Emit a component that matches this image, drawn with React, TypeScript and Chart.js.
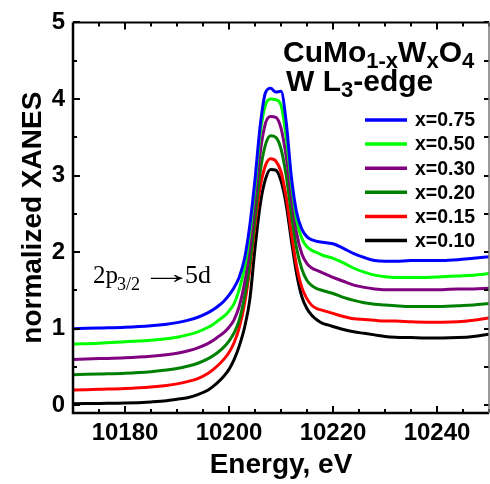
import { useEffect, useRef } from 'react';
import { Chart, registerables } from 'chart.js';

Chart.register(...registerables);

const ENERGY = [
  10170, 10175, 10180, 10185, 10188, 10190, 10192, 10194, 10196, 10197,
  10198, 10199, 10200, 10201, 10202, 10203, 10204, 10205, 10206, 10207,
  10208, 10209, 10210, 10211, 10212, 10213, 10214, 10215, 10216, 10217,
  10218, 10219, 10220, 10222, 10224, 10226, 10228, 10230, 10232, 10235,
  10238, 10241, 10244, 10247, 10250,
];

const X075 = [
  1.00, 1.01, 1.02, 1.04, 1.06, 1.08, 1.11, 1.15, 1.21, 1.25,
  1.30, 1.36, 1.44, 1.54, 1.68, 1.92, 2.35, 2.95, 3.65, 4.08,
  4.14, 4.09, 4.10, 3.70, 2.98, 2.52, 2.30, 2.20, 2.16, 2.14,
  2.13, 2.12, 2.11, 2.05, 1.98, 1.93, 1.89, 1.88, 1.88, 1.89,
  1.89, 1.89, 1.90, 1.92, 1.94,
];
const X050 = [
  0.80, 0.81, 0.83, 0.85, 0.87, 0.89, 0.92, 0.96, 1.02, 1.06,
  1.11, 1.16, 1.23, 1.33, 1.52, 1.80, 2.25, 2.85, 3.55, 3.92,
  4.00, 3.99, 3.92, 3.50, 2.90, 2.42, 2.18, 2.07, 2.02, 1.99,
  1.96, 1.94, 1.92, 1.86, 1.79, 1.74, 1.70, 1.68, 1.67, 1.67,
  1.67, 1.68, 1.69, 1.70, 1.72,
];
const X030 = [
  0.60, 0.61, 0.62, 0.64, 0.66, 0.68, 0.71, 0.75, 0.81, 0.85,
  0.90, 0.95, 1.02, 1.12, 1.30, 1.60, 2.05, 2.65, 3.30, 3.68,
  3.77, 3.76, 3.62, 3.25, 2.72, 2.25, 1.98, 1.85, 1.79, 1.76,
  1.73, 1.70, 1.67, 1.62, 1.57, 1.54, 1.52, 1.51, 1.51, 1.51,
  1.51, 1.51, 1.52, 1.52, 1.53,
];
const X020 = [
  0.40, 0.41, 0.42, 0.44, 0.46, 0.48, 0.51, 0.55, 0.61, 0.65,
  0.70, 0.76, 0.84, 0.95, 1.12, 1.42, 1.85, 2.45, 3.05, 3.40,
  3.52, 3.50, 3.35, 3.00, 2.50, 2.05, 1.78, 1.63, 1.56, 1.52,
  1.50, 1.48, 1.46, 1.41, 1.37, 1.34, 1.32, 1.31, 1.30, 1.29,
  1.29, 1.29, 1.30, 1.31, 1.33,
];
const X015 = [
  0.20, 0.21, 0.22, 0.24, 0.26, 0.28, 0.31, 0.35, 0.42, 0.47,
  0.53, 0.60, 0.69, 0.82, 1.02, 1.33, 1.78, 2.35, 2.85, 3.13,
  3.22, 3.19, 3.05, 2.72, 2.25, 1.82, 1.54, 1.39, 1.30, 1.26,
  1.24, 1.22, 1.20, 1.16, 1.13, 1.12, 1.11, 1.10, 1.10, 1.09,
  1.085, 1.085, 1.09, 1.11, 1.14,
];
const X010 = [
  0.02, 0.025, 0.03, 0.045, 0.06, 0.08, 0.10, 0.14, 0.20, 0.25,
  0.31, 0.38, 0.47, 0.60, 0.78, 1.02, 1.38, 2.05, 2.62, 2.95,
  3.08, 3.07, 2.93, 2.62, 2.15, 1.72, 1.42, 1.26, 1.17, 1.11,
  1.07, 1.05, 1.03, 0.99, 0.96, 0.94, 0.92, 0.90, 0.89, 0.885,
  0.88, 0.88, 0.885, 0.90, 0.93,
];

const SERIES_LABELS = ['x=0.75', 'x=0.50', 'x=0.30', 'x=0.20', 'x=0.15', 'x=0.10'];
const SERIES_VALUES = [X075, X050, X030, X020, X015, X010];
const SERIES_COLORS = ['#0000ff', '#00ff00', '#800080', '#008000', '#ff0000', '#000000'];

const X_TICKS = [10180, 10200, 10220, 10240];
const X_MINOR = [10170, 10175, 10180, 10185, 10190, 10195, 10200, 10205, 10210, 10215, 10220, 10225, 10230, 10235, 10240, 10245, 10250];
const Y_TICKS = [0, 1, 2, 3, 4, 5];
const Y_MINOR = [0, 0.5, 1, 1.5, 2, 2.5, 3, 3.5, 4, 4.5, 5];

const SANS = "'Liberation Sans', Arial, sans-serif";
const SERIF = "'Liberation Serif', 'Times New Roman', serif";

type Run = [string, string, number];

function drawRuns(ctx: CanvasRenderingContext2D, x: number, baseline: number, runs: Run[]) {
  let cx = x;
  for (const [text, font, dy] of runs) {
    ctx.font = font;
    ctx.fillText(text, cx, baseline + dy);
    cx += ctx.measureText(text).width;
  }
}

const framePlugin = {
  id: 'frame',
  afterDraw(chart: any) {
    const { ctx, chartArea } = chart;
    const { left, right, top, bottom } = chartArea;
    const xs = chart.scales.x;
    const ys = chart.scales.y;
    ctx.save();
    ctx.strokeStyle = '#000';
    ctx.lineWidth = 2;
    ctx.beginPath();
    for (const v of X_MINOR) {
      const px = Math.round(xs.getPixelForValue(v));
      const len = X_TICKS.includes(v) ? 7 : 4;
      ctx.moveTo(px, bottom);
      ctx.lineTo(px, bottom - len);
      ctx.moveTo(px, top);
      ctx.lineTo(px, top + len);
    }
    for (const v of Y_MINOR) {
      const py = Math.round(ys.getPixelForValue(v));
      const len = Y_TICKS.includes(v) ? 7 : 4;
      ctx.moveTo(left, py);
      ctx.lineTo(left + len, py);
      ctx.moveTo(right, py);
      ctx.lineTo(right - 5, py);
    }
    ctx.stroke();

    ctx.lineWidth = 2.5;
    ctx.beginPath();
    ctx.moveTo(left, top);
    ctx.lineTo(left, bottom);
    ctx.lineTo(right, bottom);
    ctx.stroke();
    ctx.lineWidth = 2;
    ctx.beginPath();
    ctx.moveTo(left, top);
    ctx.lineTo(right, top);
    ctx.stroke();
    ctx.strokeStyle = '#777';
    ctx.lineWidth = 1.5;
    ctx.beginPath();
    ctx.moveTo(right, top);
    ctx.lineTo(right, bottom);
    ctx.stroke();

    // legend
    ctx.textBaseline = 'middle';
    ctx.textAlign = 'left';
    ctx.font = `bold 19.5px ${SANS}`;
    SERIES_LABELS.forEach((lab, i) => {
      const yy = 120 + i * 24.1;
      ctx.strokeStyle = SERIES_COLORS[i];
      ctx.lineWidth = 3.5;
      ctx.beginPath();
      ctx.moveTo(365, yy);
      ctx.lineTo(407, yy);
      ctx.stroke();
      ctx.fillStyle = '#000';
      ctx.fillText(lab, 415, yy + 1);
    });

    // title
    ctx.textBaseline = 'alphabetic';
    ctx.fillStyle = '#000';
    const main = `bold 30px ${SANS}`;
    const sub = `bold 22px ${SANS}`;
    drawRuns(ctx, 283, 62, [
      ['CuMo', main, 0], ['1-x', sub, 6], ['W', main, 0], ['x', sub, 6], ['O', main, 0], ['4', sub, 6],
    ]);
    drawRuns(ctx, 286, 91, [['W L', main, 0], ['3', sub, 6], ['-edge', main, 0]]);

    // annotation
    ctx.font = `25px ${SERIF}`;
    ctx.fillText('2p', 93, 283);
    ctx.font = `18px ${SERIF}`;
    ctx.fillText('3/2', 117, 290);
    ctx.font = `26px ${SERIF}`;
    const m = ctx.measureText('\u2192');
    const inkL = -(m.actualBoundingBoxLeft || 0);
    const inkW = (m.actualBoundingBoxRight || m.width) - inkL;
    const sx = 33 / Math.max(inkW, 1);
    ctx.save();
    ctx.translate(150 - inkL * sx, 283);
    ctx.scale(sx, 1.1);
    ctx.fillText('\u2192', 0, 0);
    ctx.restore();
    ctx.font = `26px ${SERIF}`;
    ctx.fillText('5d', 185, 283);
    ctx.restore();
  },
};

export default function App() {
  const ref = useRef<HTMLCanvasElement | null>(null);
  useEffect(() => {
    if (!ref.current) return;
    const chart = new Chart(ref.current, {
      type: 'line',
      data: {
        datasets: SERIES_LABELS.map((label, i) => ({
          label,
          data: ENERGY.map((e, j) => ({ x: e, y: SERIES_VALUES[i][j] })),
          borderColor: SERIES_COLORS[i],
          backgroundColor: SERIES_COLORS[i],
          borderWidth: 3,
          pointRadius: 0,
          cubicInterpolationMode: 'monotone' as const,
          fill: false,
        })),
      },
      options: {
        responsive: false,
        devicePixelRatio: 1,
        animation: false,
        layout: { padding: { top: 22, right: 1, left: 0, bottom: 0 } },
        plugins: { legend: { display: false }, tooltip: { enabled: false } },
        scales: {
          x: {
            type: 'linear',
            min: 10170,
            max: 10250,
            afterFit: (s: any) => { s.height = 71; },
            afterBuildTicks: (s: any) => { s.ticks = X_TICKS.map((v) => ({ value: v })); },
            grid: { display: false, drawTicks: false },
            border: { display: false },
            ticks: {
              padding: 6,
              maxRotation: 0,
              autoSkip: false,
              color: '#000',
              font: { family: SANS, size: 24, weight: 'bold' },
              callback: (v: any) => String(v),
            },
            title: {
              display: true,
              text: 'Energy, eV',
              color: '#000',
              font: { family: SANS, size: 28, weight: 'bold', lineHeight: 1.2 },
              padding: { top: 0, bottom: 2 },
            },
          },
          y: {
            type: 'linear',
            min: -0.1,
            max: 5,
            afterFit: (s: any) => { s.width = 73; },
            afterBuildTicks: (s: any) => { s.ticks = Y_TICKS.map((v) => ({ value: v })); },
            grid: { display: false, drawTicks: false },
            border: { display: false },
            ticks: {
              padding: 8,
              color: '#000',
              font: { family: SANS, size: 24, weight: 'bold' },
              callback: (v: any) => String(v),
            },
            title: {
              display: true,
              text: 'normalized XANES',
              color: '#000',
              font: { family: SANS, size: 28, weight: 'bold', lineHeight: 1.2 },
              padding: { top: 16, bottom: 0 },
            },
          },
        },
      },
      plugins: [framePlugin],
    });
    return () => chart.destroy();
  }, []);
  return (
    <div style={{ position: 'fixed', left: 0, top: 0, width: 490, height: 484, background: '#fff' }}>
      <canvas ref={ref} width={490} height={484} style={{ display: 'block' }} />
    </div>
  );
}
